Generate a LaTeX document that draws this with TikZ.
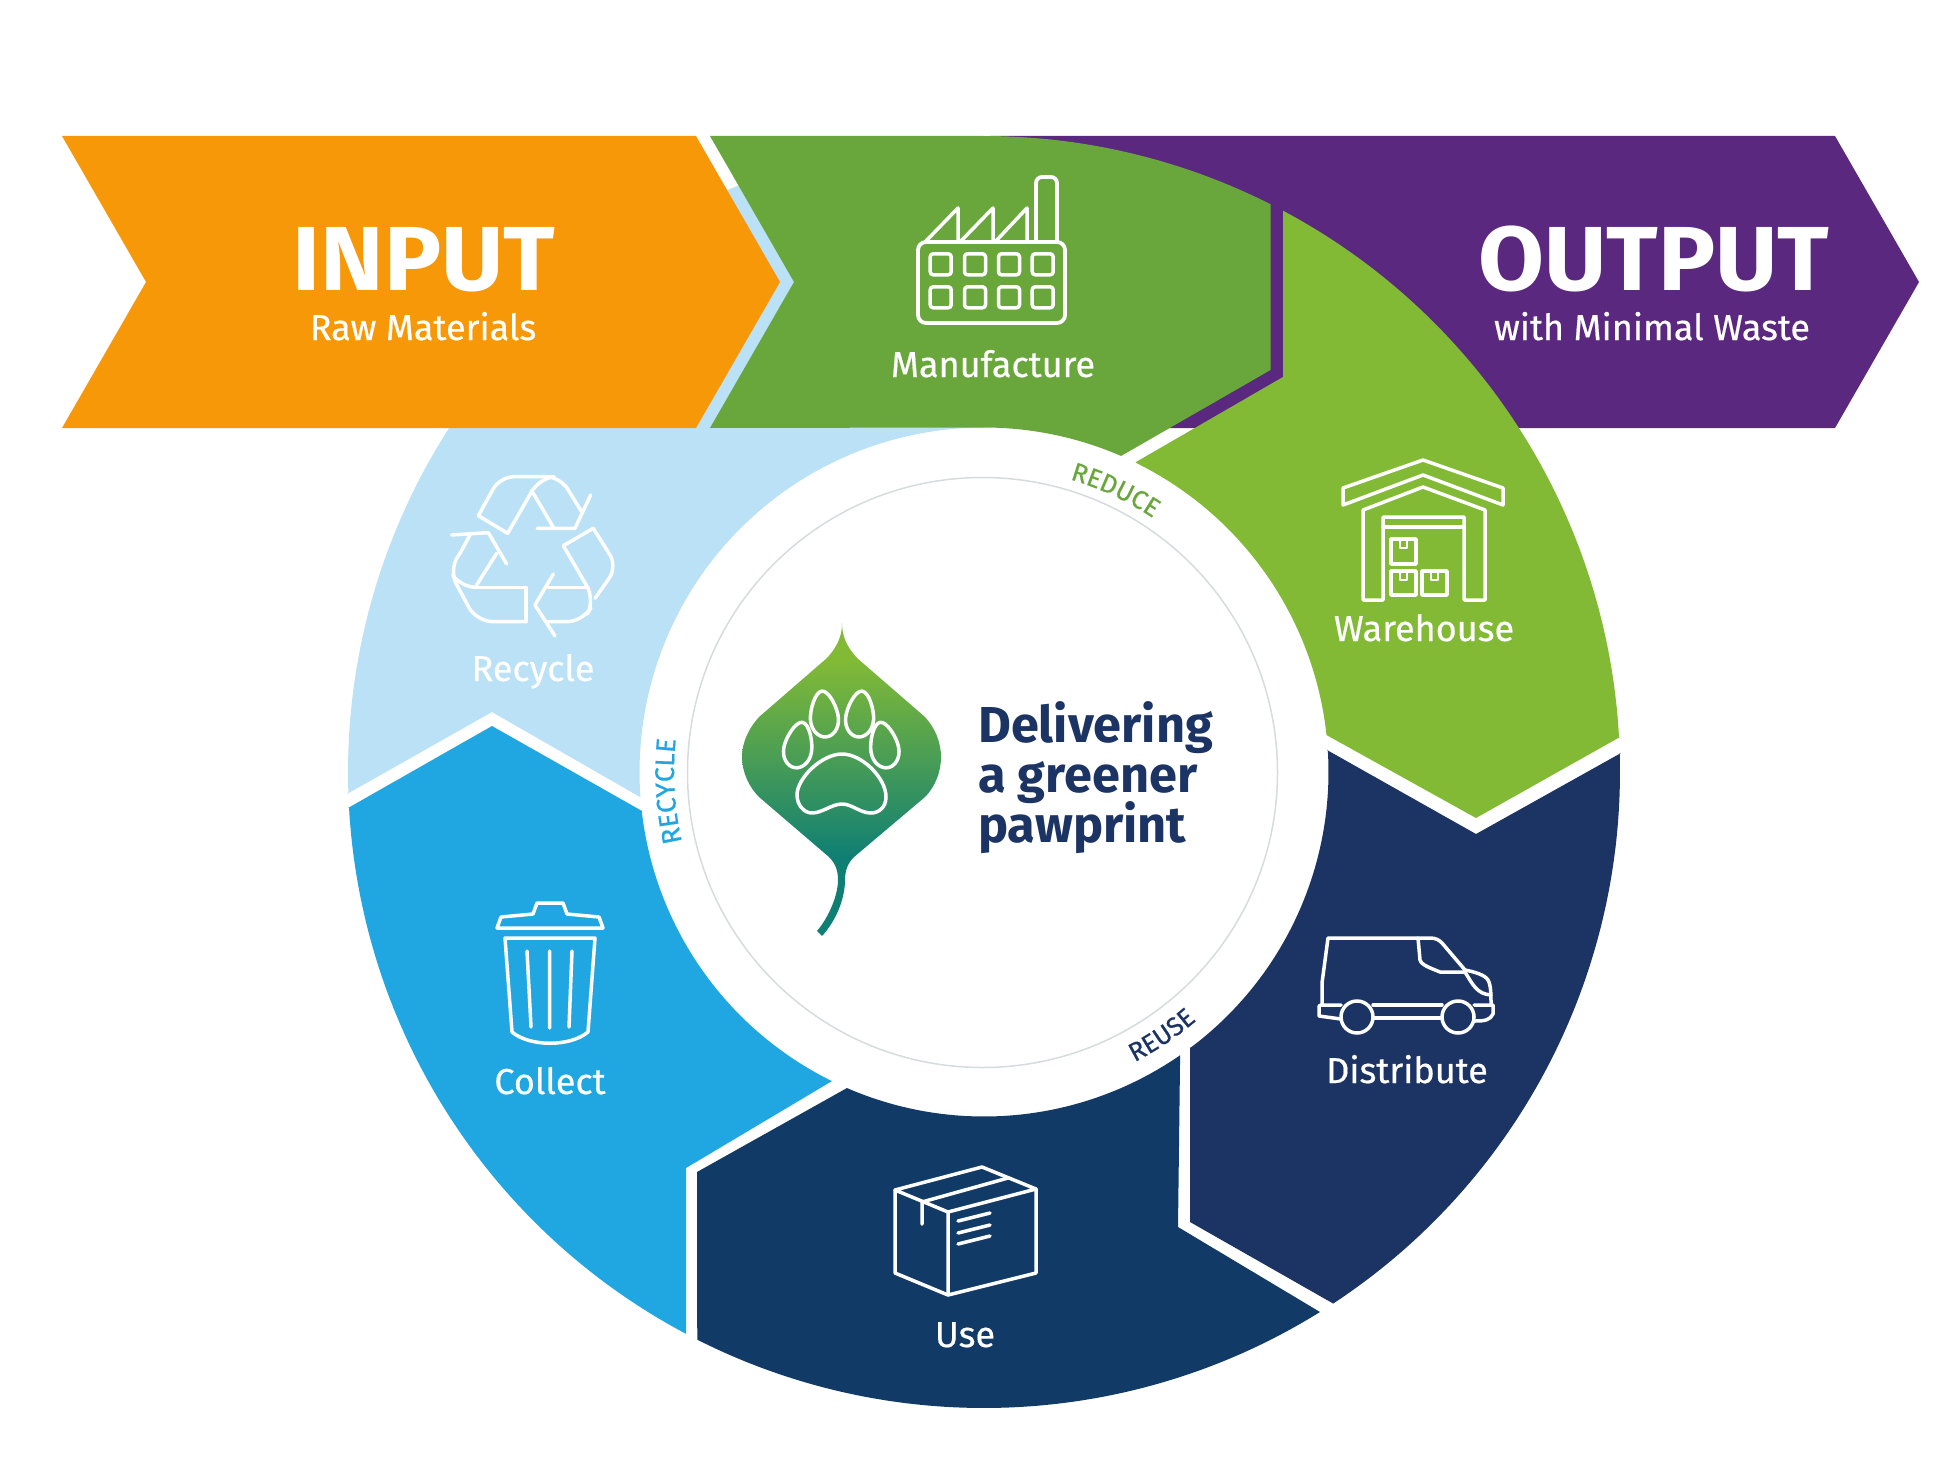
\documentclass[tikz,border=0pt]{standalone}
\usepackage{fontspec}
\setmainfont{Fira Sans}
\newfontfamily\labfont{Fira Sans}[FakeBold=0.5]
\usetikzlibrary{decorations.text}
\definecolor{cOrange}{HTML}{F79808}
\definecolor{cPurple}{HTML}{5B2880}
\definecolor{cGreen}{HTML}{69A63B}
\definecolor{cLime}{HTML}{82BA36}
\definecolor{cPale}{HTML}{BAE1F6}
\definecolor{cBlue}{HTML}{20A6E0}
\definecolor{cNavy}{HTML}{1C3464}
\definecolor{cDeep}{HTML}{123A66}
\definecolor{cTeal}{HTML}{0F7F74}
\definecolor{cRing}{HTML}{D6DBDE}
\pgfdeclareverticalshading{leafgrad}{100bp}{color(0bp)=(cTeal); color(37.5bp)=(cTeal); color(69bp)=(cLime); color(100bp)=(cLime)}
\tikzset{
  arcO/.style 2 args={insert path={-- plot[domain=#1:#2,samples=90,variable=\ang] ({984+636*cos(\ang)},{772-636*sin(\ang)})}},
  arcI/.style 2 args={insert path={-- plot[domain=#1:#2,samples=70,variable=\ang] ({984+344.5*cos(\ang)},{772-344.5*sin(\ang)})}},
  icon/.style={draw=white,line width=3.8pt,line join=round,line cap=round},
  thinicon/.style={draw=white,line width=3.5pt,line join=round,line cap=round},
  lab/.style={text=white,anchor=base,inner sep=0pt,font=\labfont\fontsize{36}{36}\selectfont},
  sublab/.style={text=white,anchor=base,inner sep=0pt,font=\labfont\fontsize{36}{36}\selectfont},
  head/.style={text=white,anchor=base,inner sep=0pt,xscale=1.05,transform shape,font=\fontsize{91}{91}\selectfont\bfseries},
  slogan/.style={text=cNavy,anchor=base west,inner sep=0pt,font=\fontsize{50.5}{50.5}\selectfont\bfseries},
}
\begin{document}
\begin{tikzpicture}[x=1pt,y=-1pt]
\useasboundingbox (0,0) rectangle (1959,1458);
% arrows and ring segments
\fill[cPurple] (990,136) -- (1835,136) -- (1919,282) -- (1835,428) -- (1100,428) -- cycle;
\fill[cPale] (347,794) -- (492,712) -- (640,797) [arcI={184.15}{90}] [arcO={90}{182}] -- cycle;
\fill[cOrange] (62,136) -- (696,136) -- (780,282) -- (696,428) -- (62,428) -- (146,282) -- cycle;
\fill[cGreen] (710,136) -- (984,136) [arcO={90}{63.2}] -- (1270.5,370) -- (1121,456) [arcI={66.6}{90}] -- (710,428) -- (794,282) -- cycle;
\fill[cLime] (1283,211) -- (1283,377) -- (1136,462) [arcI={63.9}{6.16}] -- (1476,818) -- (1620,737) [arcO={3.15}{61.95}] -- cycle;
\fill[cNavy] (1327,750) -- (1476,834) -- (1621,753) [arcO={1.7}{-56.7}] -- (1190,1222) -- (1190,1047) [arcI={-53.2}{3.67}] -- cycle;
\fill[cDeep] (847,1088) [arcI={246.6}{304.7}] -- (1178,1227) -- (1320,1312) [arcO={301.9}{243.2}] -- (697,1172) -- cycle;
\fill[cBlue] (348,808) -- (492,726) -- (642,811) [arcI={186.5}{243.8}] -- (686,1168) -- (686,1334) [arcO={242.07}{183.24}] -- cycle;
% inner ring
\draw[cRing,line width=1.5pt] (982.5,772.5) ellipse [x radius=295,y radius=295];
% ring labels
\path[decorate,decoration={text along path,text align=center,text={|\labfont\fontsize{26}{26}\selectfont\color{cGreen}|REDUCE}}]
  plot[domain=87:43,samples=50,variable=\ang] ({984+305*cos(\ang)},{772-305*sin(\ang)});
\path[decorate,decoration={text along path,text align=center,text={|\labfont\fontsize{26}{26}\selectfont\color{cNavy}|REUSE}}]
  plot[domain=-78:-34,samples=50,variable=\ang] ({984+327*cos(\ang)},{772-327*sin(\ang)});
\path[decorate,decoration={text along path,text align=center,text={|\labfont\fontsize{27}{27}\selectfont\color{cBlue}|RECYCLE}}]
  plot[domain=207:160,samples=50,variable=\ang] ({984+310*cos(\ang)},{772-310*sin(\ang)});
% leaf
\path[shading=leafgrad] (842,623) .. controls (842,640) and (850,650) .. (857,658) -- (925,717) .. controls (935,728) and (941,742) .. (941,757) .. controls (941,772) and (935,787) .. (925,797) -- (854,857) .. controls (848,863) and (845,870) .. (845,880) .. controls (845,900) and (835,922) .. (822,936) -- (817,931) .. controls (829,917) and (838,895) .. (838,880) .. controls (838,870) and (835,863) .. (829,857) -- (759,797) .. controls (749,787) and (742,772) .. (742,757) .. controls (742,742) and (749,728) .. (759,717) -- (827,658) .. controls (834,650) and (842,640) .. (842,623) -- cycle;
\foreach \px/\py/\pr in {824/714/5,860/714/-5,798.5/745/-10,884/745/10}{
  \draw[thinicon,shift={(\px,\py)},rotate=\pr] (0,-23) .. controls (7,-23) and (14,-5) .. (14,5) .. controls (14,16) and (7,23) .. (0,23) .. controls (-7,23) and (-14,16) .. (-14,5) .. controls (-14,-5) and (-7,-23) .. (0,-23) -- cycle;
}
\draw[thinicon] (842,754) .. controls (862,754) and (886,778) .. (886,797) .. controls (886,808) and (878,813) .. (871,813) .. controls (860,813) and (852,804) .. (842,804) .. controls (832,804) and (822,813) .. (812,813) .. controls (804,813) and (797,805) .. (797,795) .. controls (797,778) and (822,754) .. (842,754) -- cycle;
% factory
\draw[icon,rounded corners=8pt] (918,242) rectangle (1065,323);
\foreach \wx in {940.7,975,1009,1042.7}{\foreach \wy in {264.3,297.3}{
  \draw[thinicon,rounded corners=3pt] (\wx-10.5,\wy-10.5) rectangle (\wx+10.5,\wy+10.5);}}
\draw[thinicon] (925,242) -- (958,208) -- (958,242) (960,242) -- (993,208) -- (993,242) (995,242) -- (1027,208) -- (1027,242);
\draw[icon,rounded corners=6pt] (1036,242) -- (1036,177) -- (1057,177) -- (1057,242);
% warehouse
\draw[thinicon] (1423,460) -- (1503,488) -- (1503,505) -- (1423,475) -- (1343,505) -- (1343,488) -- cycle;
\draw[thinicon] (1363,600) -- (1363,510) -- (1423,487) -- (1485,510) -- (1485,600) -- (1464,600) -- (1464,517) -- (1383,517) -- (1383,600) -- cycle;
\draw[thinicon] (1383,527) -- (1464,527);
\draw[thinicon] (1391,539) rectangle (1416,564) (1391,571) rectangle (1416,595) (1422,571) rectangle (1447,595);
\draw[thinicon,line width=2.4pt] (1400,539) -- (1400,548) -- (1407,548) -- (1407,539) (1400,571) -- (1400,580) -- (1407,580) -- (1407,571) (1431,571) -- (1431,580) -- (1438,580) -- (1438,571);
% van
\draw[thinicon] (1322,1005) -- (1322,983) -- (1328,938) -- (1430,938) .. controls (1436,938) and (1439,940) .. (1442,943) -- (1465,970) .. controls (1475,972) and (1485,975) .. (1488,980) .. controls (1491,985) and (1491,995) .. (1491,1005);
\draw[thinicon] (1418,938) -- (1420,960) .. controls (1421,964) and (1425,966) .. (1440,972) -- (1465,972) .. controls (1473,985) and (1477,994) .. (1491,995);
\draw[thinicon] (1341,1005) -- (1321,1005) .. controls (1319,1005) and (1319,1006) .. (1319,1008) -- (1319,1016) -- (1341,1019);
\draw[thinicon] (1373,1005) -- (1442,1005) (1373,1018) -- (1442,1018);
\draw[thinicon] (1474,1005) -- (1493,1005) -- (1493,1014) .. controls (1490,1020) and (1485,1021) .. (1475,1021);
\draw[thinicon] (1357,1017) circle [radius=16pt] (1458,1017) circle [radius=16pt];
% box
\draw[thinicon] (895,1190) -- (982,1167) -- (1036,1189) -- (948,1212) -- cycle;
\draw[thinicon] (895,1190) -- (895,1273) -- (948,1295) -- (1036,1273) -- (1036,1189) (948,1212) -- (948,1295);
\draw[thinicon] (922,1224) -- (922,1202) -- (1008,1178);
\draw[thinicon] (958,1221) -- (990,1213) (958,1233) -- (990,1225) (958,1244) -- (990,1236);
% bin
\draw[thinicon] (497,928) -- (501,917) -- (533,914) -- (537,903) -- (563,903) -- (567,914) -- (599,917) -- (603,928) -- cycle;
\draw[thinicon] (505,938) -- (595,938) -- (588,1032) .. controls (570,1047) and (530,1047) .. (512,1032) -- cycle;
\draw[thinicon] (527,951) -- (531,1027) (549.7,951) -- (549.7,1028) (572,951) -- (569,1027);
% recycle
\begin{scope}[shift={(420,450)},x=0.3333pt,y=-0.3333pt]
\draw[thinicon,rounded corners=14pt] (175,197) -- (240,80) -- (420,80) -- (485,185);
\draw[thinicon] (175,197) -- (263,250) -- (335,125);
\draw[thinicon,rounded corners=14pt] (335,125) -- (360,85) -- (400,80);
\draw[thinicon] (340,130) -- (400,232);
\draw[thinicon] (512,135) -- (465,235) -- (352,235);
\draw[thinicon] (95,255) -- (205,248) -- (260,342);
\draw[thinicon] (230,310) -- (170,405);
\draw[thinicon] (150,255) -- (120,310);
\draw[thinicon,rounded corners=16pt] (120,310) -- (86,360) -- (170,515) -- (318,515);
\draw[thinicon] (318,515) -- (318,412) -- (160,412);
\draw[thinicon,rounded corners=14pt] (98,375) -- (125,412) -- (170,412);
\draw[thinicon,rounded corners=14pt] (520,235) -- (592,350) -- (525,445);
\draw[thinicon] (430,287) -- (520,235);
\draw[thinicon,rounded corners=16pt] (430,287) -- (525,450) -- (490,515) -- (385,515);
\draw[thinicon] (400,372) -- (345,465) -- (405,558);
\draw[thinicon] (385,412) -- (505,412);
\end{scope}
% labels
\node[head] (inputh) at (424,290) {INPUT};
\node[sublab] (inputs) at (423,340) {Raw Materials};
\node[head] (outputh) at (1654,290) {OUTPUT};
\node[sublab] (outputs) at (1652,340) {with Minimal Waste};
\node[lab] (manu) at (993,377) {Manufacture};
\node[lab] (ware) at (1424,641) {Warehouse};
\node[lab] (dist) at (1407,1083) {Distribute};
\node[lab] (use) at (965,1347) {Use};
\node[lab] (coll) at (550,1094) {Collect};
\node[lab] (recy) at (533,681) {Recycle};
\node[slogan] (s1) at (978,742) {Delivering};
\node[slogan] (s2) at (978,792) {a greener};
\node[slogan] (s3) at (978,842) {pawprint};
\end{tikzpicture}
\end{document}
